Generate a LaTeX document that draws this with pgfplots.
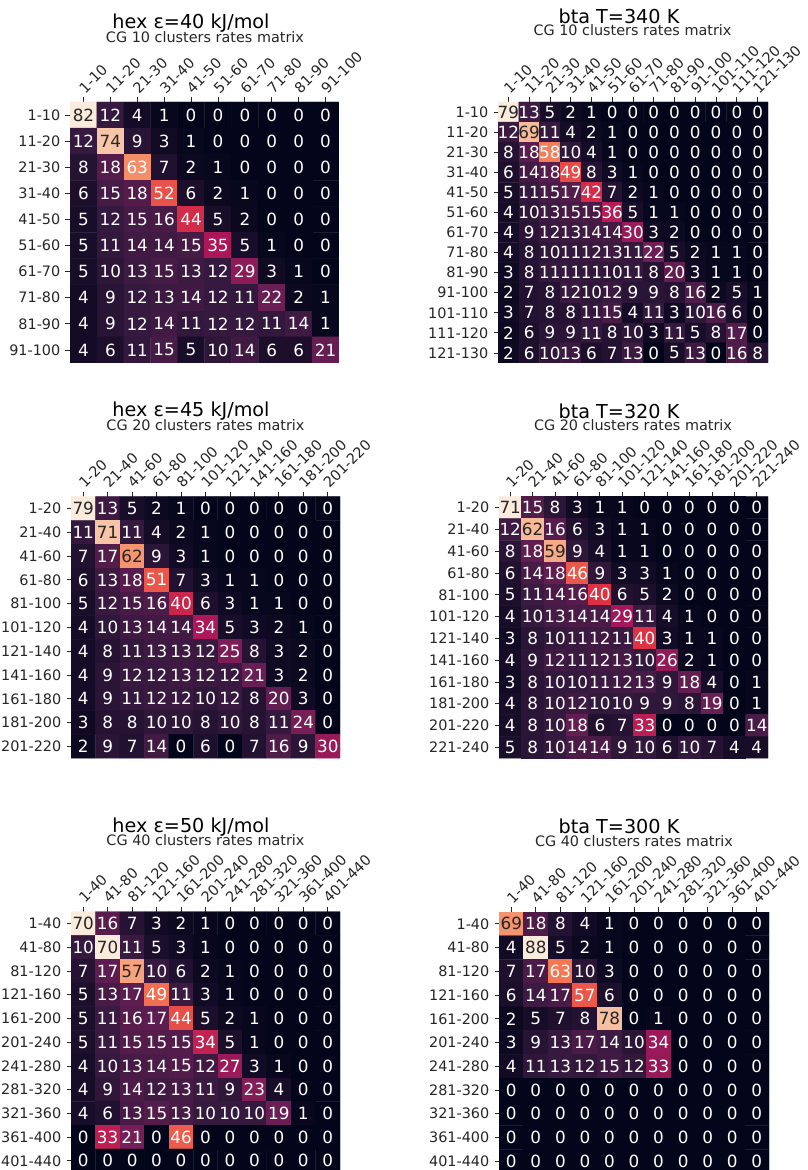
\documentclass[border=0pt]{standalone}
\usepackage{pgfplots}
\pgfplotsset{compat=1.18}
\usepackage{pgfplotstable}
\usepackage{fontspec}
\setmainfont{DejaVu Sans}
\definecolor{txtdark}{HTML}{262626}
\newcommand\tickfont{\fontsize{14.4bp}{16bp}\selectfont}
\newcommand\cellfont{\fontsize{16.8bp}{19bp}\selectfont}
\newcommand\titlefont{\fontsize{19.2bp}{22bp}\selectfont}
\newcommand\subfont{\fontsize{14.4bp}{16bp}\selectfont}
\pgfplotsset{
  colormap={rocket}{rgb255(0)=(3,5,26) rgb255(1)=(53,25,62) rgb255(2)=(112,31,87) rgb255(3)=(173,23,89) rgb255(4)=(225,51,66) rgb255(5)=(243,118,81) rgb255(6)=(246,180,143) rgb255(7)=(250,235,221)},
  hm/.style={
    scale only axis, anchor=north west, enlargelimits=false, y dir=reverse,
    xtick pos=right, xticklabel pos=right, ytick pos=left, yticklabel pos=left,
    tick align=outside, major tick length=4.5bp,
    tick style={line width=0.8bp, color=txtdark},
    axis line style={draw=none},
    colormap name=rocket, point meta min=0,
    tick label style={font=\tickfont, inner sep=0pt, color=txtdark},
    yticklabel style={anchor=east, xshift=-5bp},
    xticklabel style={xshift=2bp, yshift=3bp, rotate=45, anchor=south west},
  },
  hmcells/.style={matrix plot*, mesh/cols=#1, point meta=explicit},
  hmtextw/.style={only marks, mark=none, point meta=explicit,
    nodes near coords={\pgfmathprintnumber[assume math mode=true]{\pgfplotspointmeta}},
    y filter/.expression={\thisrow{C}>#1 ? nan : y},
    every node near coord/.append style={anchor=center, font=\cellfont, inner sep=0pt, color=white}},
  hmtextd/.style={only marks, mark=none, point meta=explicit,
    nodes near coords={\pgfmathprintnumber[assume math mode=true]{\pgfplotspointmeta}},
    y filter/.expression={\thisrow{C}>#1 ? y : nan},
    every node near coord/.append style={anchor=center, font=\cellfont, inner sep=0pt, color=txtdark}},
}
% hex eps=40, 10 x 10
\pgfplotstableread[row sep=\\]{
x y C\\
0 0 82\\ 1 0 12\\ 2 0 4\\ 3 0 1\\ 4 0 0\\ 5 0 0\\ 6 0 0\\ 7 0 0\\ 8 0 0\\ 9 0 0\\
0 1 12\\ 1 1 74\\ 2 1 9\\ 3 1 3\\ 4 1 1\\ 5 1 0\\ 6 1 0\\ 7 1 0\\ 8 1 0\\ 9 1 0\\
0 2 8\\ 1 2 18\\ 2 2 63\\ 3 2 7\\ 4 2 2\\ 5 2 1\\ 6 2 0\\ 7 2 0\\ 8 2 0\\ 9 2 0\\
0 3 6\\ 1 3 15\\ 2 3 18\\ 3 3 52\\ 4 3 6\\ 5 3 2\\ 6 3 1\\ 7 3 0\\ 8 3 0\\ 9 3 0\\
0 4 5\\ 1 4 12\\ 2 4 15\\ 3 4 16\\ 4 4 44\\ 5 4 5\\ 6 4 2\\ 7 4 0\\ 8 4 0\\ 9 4 0\\
0 5 5\\ 1 5 11\\ 2 5 14\\ 3 5 14\\ 4 5 15\\ 5 5 35\\ 6 5 5\\ 7 5 1\\ 8 5 0\\ 9 5 0\\
0 6 5\\ 1 6 10\\ 2 6 13\\ 3 6 15\\ 4 6 13\\ 5 6 12\\ 6 6 29\\ 7 6 3\\ 8 6 1\\ 9 6 0\\
0 7 4\\ 1 7 9\\ 2 7 12\\ 3 7 13\\ 4 7 14\\ 5 7 12\\ 6 7 11\\ 7 7 22\\ 8 7 2\\ 9 7 1\\
0 8 4\\ 1 8 9\\ 2 8 12\\ 3 8 14\\ 4 8 11\\ 5 8 12\\ 6 8 12\\ 7 8 11\\ 8 8 14\\ 9 8 1\\
0 9 4\\ 1 9 6\\ 2 9 11\\ 3 9 15\\ 4 9 5\\ 5 9 10\\ 6 9 14\\ 7 9 6\\ 8 9 6\\ 9 9 21\\
}\tA
% bta T=340 K, 13 x 13
\pgfplotstableread[row sep=\\]{
x y C\\
0 0 79\\ 1 0 13\\ 2 0 5\\ 3 0 2\\ 4 0 1\\ 5 0 0\\ 6 0 0\\ 7 0 0\\ 8 0 0\\ 9 0 0\\ 10 0 0\\ 11 0 0\\ 12 0 0\\
0 1 12\\ 1 1 69\\ 2 1 11\\ 3 1 4\\ 4 1 2\\ 5 1 1\\ 6 1 0\\ 7 1 0\\ 8 1 0\\ 9 1 0\\ 10 1 0\\ 11 1 0\\ 12 1 0\\
0 2 8\\ 1 2 18\\ 2 2 58\\ 3 2 10\\ 4 2 4\\ 5 2 1\\ 6 2 0\\ 7 2 0\\ 8 2 0\\ 9 2 0\\ 10 2 0\\ 11 2 0\\ 12 2 0\\
0 3 6\\ 1 3 14\\ 2 3 18\\ 3 3 49\\ 4 3 8\\ 5 3 3\\ 6 3 1\\ 7 3 0\\ 8 3 0\\ 9 3 0\\ 10 3 0\\ 11 3 0\\ 12 3 0\\
0 4 5\\ 1 4 11\\ 2 4 15\\ 3 4 17\\ 4 4 42\\ 5 4 7\\ 6 4 2\\ 7 4 1\\ 8 4 0\\ 9 4 0\\ 10 4 0\\ 11 4 0\\ 12 4 0\\
0 5 4\\ 1 5 10\\ 2 5 13\\ 3 5 15\\ 4 5 15\\ 5 5 36\\ 6 5 5\\ 7 5 1\\ 8 5 1\\ 9 5 0\\ 10 5 0\\ 11 5 0\\ 12 5 0\\
0 6 4\\ 1 6 9\\ 2 6 12\\ 3 6 13\\ 4 6 14\\ 5 6 14\\ 6 6 30\\ 7 6 3\\ 8 6 2\\ 9 6 0\\ 10 6 0\\ 11 6 0\\ 12 6 0\\
0 7 4\\ 1 7 8\\ 2 7 10\\ 3 7 11\\ 4 7 12\\ 5 7 13\\ 6 7 11\\ 7 7 22\\ 8 7 5\\ 9 7 2\\ 10 7 1\\ 11 7 1\\ 12 7 0\\
0 8 3\\ 1 8 8\\ 2 8 11\\ 3 8 11\\ 4 8 11\\ 5 8 10\\ 6 8 11\\ 7 8 8\\ 8 8 20\\ 9 8 3\\ 10 8 1\\ 11 8 1\\ 12 8 0\\
0 9 2\\ 1 9 7\\ 2 9 8\\ 3 9 12\\ 4 9 10\\ 5 9 12\\ 6 9 9\\ 7 9 9\\ 8 9 8\\ 9 9 16\\ 10 9 2\\ 11 9 5\\ 12 9 1\\
0 10 3\\ 1 10 7\\ 2 10 8\\ 3 10 8\\ 4 10 11\\ 5 10 15\\ 6 10 4\\ 7 10 11\\ 8 10 3\\ 9 10 10\\ 10 10 16\\ 11 10 6\\ 12 10 0\\
0 11 2\\ 1 11 6\\ 2 11 9\\ 3 11 9\\ 4 11 11\\ 5 11 8\\ 6 11 10\\ 7 11 3\\ 8 11 11\\ 9 11 5\\ 10 11 8\\ 11 11 17\\ 12 11 0\\
0 12 2\\ 1 12 6\\ 2 12 10\\ 3 12 13\\ 4 12 6\\ 5 12 7\\ 6 12 13\\ 7 12 0\\ 8 12 5\\ 9 12 13\\ 10 12 0\\ 11 12 16\\ 12 12 8\\
}\tB
% hex eps=45, 11 x 11
\pgfplotstableread[row sep=\\]{
x y C\\
0 0 79\\ 1 0 13\\ 2 0 5\\ 3 0 2\\ 4 0 1\\ 5 0 0\\ 6 0 0\\ 7 0 0\\ 8 0 0\\ 9 0 0\\ 10 0 0\\
0 1 11\\ 1 1 71\\ 2 1 11\\ 3 1 4\\ 4 1 2\\ 5 1 1\\ 6 1 0\\ 7 1 0\\ 8 1 0\\ 9 1 0\\ 10 1 0\\
0 2 7\\ 1 2 17\\ 2 2 62\\ 3 2 9\\ 4 2 3\\ 5 2 1\\ 6 2 0\\ 7 2 0\\ 8 2 0\\ 9 2 0\\ 10 2 0\\
0 3 6\\ 1 3 13\\ 2 3 18\\ 3 3 51\\ 4 3 7\\ 5 3 3\\ 6 3 1\\ 7 3 1\\ 8 3 0\\ 9 3 0\\ 10 3 0\\
0 4 5\\ 1 4 12\\ 2 4 15\\ 3 4 16\\ 4 4 40\\ 5 4 6\\ 6 4 3\\ 7 4 1\\ 8 4 1\\ 9 4 0\\ 10 4 0\\
0 5 4\\ 1 5 10\\ 2 5 13\\ 3 5 14\\ 4 5 14\\ 5 5 34\\ 6 5 5\\ 7 5 3\\ 8 5 2\\ 9 5 1\\ 10 5 0\\
0 6 4\\ 1 6 8\\ 2 6 11\\ 3 6 13\\ 4 6 13\\ 5 6 12\\ 6 6 25\\ 7 6 8\\ 8 6 3\\ 9 6 2\\ 10 6 0\\
0 7 4\\ 1 7 9\\ 2 7 12\\ 3 7 12\\ 4 7 13\\ 5 7 12\\ 6 7 12\\ 7 7 21\\ 8 7 3\\ 9 7 2\\ 10 7 0\\
0 8 4\\ 1 8 9\\ 2 8 11\\ 3 8 12\\ 4 8 12\\ 5 8 10\\ 6 8 12\\ 7 8 8\\ 8 8 20\\ 9 8 3\\ 10 8 0\\
0 9 3\\ 1 9 8\\ 2 9 8\\ 3 9 10\\ 4 9 10\\ 5 9 8\\ 6 9 10\\ 7 9 8\\ 8 9 11\\ 9 9 24\\ 10 9 0\\
0 10 2\\ 1 10 9\\ 2 10 7\\ 3 10 14\\ 4 10 0\\ 5 10 6\\ 6 10 0\\ 7 10 7\\ 8 10 16\\ 9 10 9\\ 10 10 30\\
}\tC
% bta T=320 K, 12 x 12
\pgfplotstableread[row sep=\\]{
x y C\\
0 0 71\\ 1 0 15\\ 2 0 8\\ 3 0 3\\ 4 0 1\\ 5 0 1\\ 6 0 0\\ 7 0 0\\ 8 0 0\\ 9 0 0\\ 10 0 0\\ 11 0 0\\
0 1 12\\ 1 1 62\\ 2 1 16\\ 3 1 6\\ 4 1 3\\ 5 1 1\\ 6 1 1\\ 7 1 0\\ 8 1 0\\ 9 1 0\\ 10 1 0\\ 11 1 0\\
0 2 8\\ 1 2 18\\ 2 2 59\\ 3 2 9\\ 4 2 4\\ 5 2 1\\ 6 2 1\\ 7 2 0\\ 8 2 0\\ 9 2 0\\ 10 2 0\\ 11 2 0\\
0 3 6\\ 1 3 14\\ 2 3 18\\ 3 3 46\\ 4 3 9\\ 5 3 3\\ 6 3 3\\ 7 3 1\\ 8 3 0\\ 9 3 0\\ 10 3 0\\ 11 3 0\\
0 4 5\\ 1 4 11\\ 2 4 14\\ 3 4 16\\ 4 4 40\\ 5 4 6\\ 6 4 5\\ 7 4 2\\ 8 4 0\\ 9 4 0\\ 10 4 0\\ 11 4 0\\
0 5 4\\ 1 5 10\\ 2 5 13\\ 3 5 14\\ 4 5 14\\ 5 5 29\\ 6 5 11\\ 7 5 4\\ 8 5 1\\ 9 5 0\\ 10 5 0\\ 11 5 0\\
0 6 3\\ 1 6 8\\ 2 6 10\\ 3 6 11\\ 4 6 12\\ 5 6 11\\ 6 6 40\\ 7 6 3\\ 8 6 1\\ 9 6 1\\ 10 6 0\\ 11 6 0\\
0 7 4\\ 1 7 9\\ 2 7 12\\ 3 7 11\\ 4 7 12\\ 5 7 13\\ 6 7 10\\ 7 7 26\\ 8 7 2\\ 9 7 1\\ 10 7 0\\ 11 7 0\\
0 8 3\\ 1 8 8\\ 2 8 10\\ 3 8 10\\ 4 8 11\\ 5 8 12\\ 6 8 13\\ 7 8 9\\ 8 8 18\\ 9 8 4\\ 10 8 0\\ 11 8 1\\
0 9 4\\ 1 9 8\\ 2 9 10\\ 3 9 12\\ 4 9 10\\ 5 9 10\\ 6 9 9\\ 7 9 9\\ 8 9 8\\ 9 9 19\\ 10 9 0\\ 11 9 1\\
0 10 4\\ 1 10 8\\ 2 10 10\\ 3 10 18\\ 4 10 6\\ 5 10 7\\ 6 10 33\\ 7 10 0\\ 8 10 0\\ 9 10 0\\ 10 10 0\\ 11 10 14\\
0 11 5\\ 1 11 8\\ 2 11 10\\ 3 11 14\\ 4 11 14\\ 5 11 9\\ 6 11 10\\ 7 11 6\\ 8 11 10\\ 9 11 7\\ 10 11 4\\ 11 11 4\\
}\tD
% hex eps=50, 11 x 11
\pgfplotstableread[row sep=\\]{
x y C\\
0 0 70\\ 1 0 16\\ 2 0 7\\ 3 0 3\\ 4 0 2\\ 5 0 1\\ 6 0 0\\ 7 0 0\\ 8 0 0\\ 9 0 0\\ 10 0 0\\
0 1 10\\ 1 1 70\\ 2 1 11\\ 3 1 5\\ 4 1 3\\ 5 1 1\\ 6 1 0\\ 7 1 0\\ 8 1 0\\ 9 1 0\\ 10 1 0\\
0 2 7\\ 1 2 17\\ 2 2 57\\ 3 2 10\\ 4 2 6\\ 5 2 2\\ 6 2 1\\ 7 2 0\\ 8 2 0\\ 9 2 0\\ 10 2 0\\
0 3 5\\ 1 3 13\\ 2 3 17\\ 3 3 49\\ 4 3 11\\ 5 3 3\\ 6 3 1\\ 7 3 0\\ 8 3 0\\ 9 3 0\\ 10 3 0\\
0 4 5\\ 1 4 11\\ 2 4 16\\ 3 4 17\\ 4 4 44\\ 5 4 5\\ 6 4 2\\ 7 4 1\\ 8 4 0\\ 9 4 0\\ 10 4 0\\
0 5 5\\ 1 5 11\\ 2 5 15\\ 3 5 15\\ 4 5 15\\ 5 5 34\\ 6 5 5\\ 7 5 1\\ 8 5 0\\ 9 5 0\\ 10 5 0\\
0 6 4\\ 1 6 10\\ 2 6 13\\ 3 6 14\\ 4 6 15\\ 5 6 12\\ 6 6 27\\ 7 6 3\\ 8 6 1\\ 9 6 0\\ 10 6 0\\
0 7 4\\ 1 7 9\\ 2 7 14\\ 3 7 12\\ 4 7 13\\ 5 7 11\\ 6 7 9\\ 7 7 23\\ 8 7 4\\ 9 7 0\\ 10 7 0\\
0 8 4\\ 1 8 6\\ 2 8 13\\ 3 8 15\\ 4 8 13\\ 5 8 10\\ 6 8 10\\ 7 8 10\\ 8 8 19\\ 9 8 1\\ 10 8 0\\
0 9 0\\ 1 9 33\\ 2 9 21\\ 3 9 0\\ 4 9 46\\ 5 9 0\\ 6 9 0\\ 7 9 0\\ 8 9 0\\ 9 9 0\\ 10 9 0\\
0 10 0\\ 1 10 0\\ 2 10 0\\ 3 10 0\\ 4 10 0\\ 5 10 0\\ 6 10 0\\ 7 10 0\\ 8 10 0\\ 9 10 0\\ 10 10 0\\
}\tE
% bta T=300 K, 11 x 11
\pgfplotstableread[row sep=\\]{
x y C\\
0 0 69\\ 1 0 18\\ 2 0 8\\ 3 0 4\\ 4 0 1\\ 5 0 0\\ 6 0 0\\ 7 0 0\\ 8 0 0\\ 9 0 0\\ 10 0 0\\
0 1 4\\ 1 1 88\\ 2 1 5\\ 3 1 2\\ 4 1 1\\ 5 1 0\\ 6 1 0\\ 7 1 0\\ 8 1 0\\ 9 1 0\\ 10 1 0\\
0 2 7\\ 1 2 17\\ 2 2 63\\ 3 2 10\\ 4 2 3\\ 5 2 0\\ 6 2 0\\ 7 2 0\\ 8 2 0\\ 9 2 0\\ 10 2 0\\
0 3 6\\ 1 3 14\\ 2 3 17\\ 3 3 57\\ 4 3 6\\ 5 3 0\\ 6 3 0\\ 7 3 0\\ 8 3 0\\ 9 3 0\\ 10 3 0\\
0 4 2\\ 1 4 5\\ 2 4 7\\ 3 4 8\\ 4 4 78\\ 5 4 0\\ 6 4 1\\ 7 4 0\\ 8 4 0\\ 9 4 0\\ 10 4 0\\
0 5 3\\ 1 5 9\\ 2 5 13\\ 3 5 17\\ 4 5 14\\ 5 5 10\\ 6 5 34\\ 7 5 0\\ 8 5 0\\ 9 5 0\\ 10 5 0\\
0 6 4\\ 1 6 11\\ 2 6 13\\ 3 6 12\\ 4 6 15\\ 5 6 12\\ 6 6 33\\ 7 6 0\\ 8 6 0\\ 9 6 0\\ 10 6 0\\
0 7 0\\ 1 7 0\\ 2 7 0\\ 3 7 0\\ 4 7 0\\ 5 7 0\\ 6 7 0\\ 7 7 0\\ 8 7 0\\ 9 7 0\\ 10 7 0\\
0 8 0\\ 1 8 0\\ 2 8 0\\ 3 8 0\\ 4 8 0\\ 5 8 0\\ 6 8 0\\ 7 8 0\\ 8 8 0\\ 9 8 0\\ 10 8 0\\
0 9 0\\ 1 9 0\\ 2 9 0\\ 3 9 0\\ 4 9 0\\ 5 9 0\\ 6 9 0\\ 7 9 0\\ 8 9 0\\ 9 9 0\\ 10 9 0\\
0 10 0\\ 1 10 0\\ 2 10 0\\ 3 10 0\\ 4 10 0\\ 5 10 0\\ 6 10 0\\ 7 10 0\\ 8 10 0\\ 9 10 0\\ 10 10 0\\
}\tF
\begin{document}
\begin{tikzpicture}[x=1bp,y=1bp]
% ---------- hex 40
\begin{axis}[hm, at={(70bp,1068bp)}, width=269bp, height=261bp,
  xmin=-0.5, xmax=9.5, ymin=-0.5, ymax=9.5, point meta max=82,
  xtick={0,...,9}, ytick={0,...,9},
  xticklabels={1-10,11-20,21-30,31-40,41-50,51-60,61-70,71-80,81-90,91-100},
  yticklabels={1-10,11-20,21-30,31-40,41-50,51-60,61-70,71-80,81-90,91-100}]
\addplot[hmcells=10] table[meta=C] {\tA};
\addplot[hmtextw=63.9] table[meta=C] {\tA};
\addplot[hmtextd=63.9] table[meta=C] {\tA};
\end{axis}
% ---------- bta 340
\begin{axis}[hm, at={(498bp,1068bp)}, width=270bp, height=261bp,
  xmin=-0.5, xmax=12.5, ymin=-0.5, ymax=12.5, point meta max=79,
  xtick={0,...,12}, ytick={0,...,12},
  xticklabels={1-10,11-20,21-30,31-40,41-50,51-60,61-70,71-80,81-90,91-100,101-110,111-120,121-130},
  yticklabels={1-10,11-20,21-30,31-40,41-50,51-60,61-70,71-80,81-90,91-100,101-110,111-120,121-130}]
\addplot[hmcells=13] table[meta=C] {\tB};
\addplot[hmtextw=61.6] table[meta=C] {\tB};
\addplot[hmtextd=61.6] table[meta=C] {\tB};
\end{axis}
% ---------- hex 45
\begin{axis}[hm, at={(71bp,673.3bp)}, width=269bp, height=261.5bp,
  xmin=-0.5, xmax=10.5, ymin=-0.5, ymax=10.5, point meta max=79,
  xtick={0,...,10}, ytick={0,...,10},
  xticklabels={1-20,21-40,41-60,61-80,81-100,101-120,121-140,141-160,161-180,181-200,201-220},
  yticklabels={1-20,21-40,41-60,61-80,81-100,101-120,121-140,141-160,161-180,181-200,201-220}]
\addplot[hmcells=11] table[meta=C] {\tC};
\addplot[hmtextw=61.6] table[meta=C] {\tC};
\addplot[hmtextd=61.6] table[meta=C] {\tC};
\end{axis}
% ---------- bta 320
\begin{axis}[hm, at={(499bp,673.3bp)}, width=269bp, height=261.5bp,
  xmin=-0.5, xmax=11.5, ymin=-0.5, ymax=11.5, point meta max=71,
  xtick={0,...,11}, ytick={0,...,11},
  xticklabels={1-20,21-40,41-60,61-80,81-100,101-120,121-140,141-160,161-180,181-200,201-220,221-240},
  yticklabels={1-20,21-40,41-60,61-80,81-100,101-120,121-140,141-160,161-180,181-200,201-220,221-240}]
\addplot[hmcells=12] table[meta=C] {\tD};
\addplot[hmtextw=55.4] table[meta=C] {\tD};
\addplot[hmtextd=55.4] table[meta=C] {\tD};
\end{axis}
% ---------- hex 50
\begin{axis}[hm, at={(71bp,258.3bp)}, width=269bp, height=261bp,
  xmin=-0.5, xmax=10.5, ymin=-0.5, ymax=10.5, point meta max=70,
  xtick={0,...,10}, ytick={0,...,10},
  xticklabels={1-40,41-80,81-120,121-160,161-200,201-240,241-280,281-320,321-360,361-400,401-440},
  yticklabels={1-40,41-80,81-120,121-160,161-200,201-240,241-280,281-320,321-360,361-400,401-440}]
\addplot[hmcells=11] table[meta=C] {\tE};
\addplot[hmtextw=54.6] table[meta=C] {\tE};
\addplot[hmtextd=54.6] table[meta=C] {\tE};
\end{axis}
% ---------- bta 300
\begin{axis}[hm, at={(499bp,258bp)}, width=270bp, height=261bp,
  xmin=-0.5, xmax=10.5, ymin=-0.5, ymax=10.5, point meta max=88,
  xtick={0,...,10}, ytick={0,...,10},
  xticklabels={1-40,41-80,81-120,121-160,161-200,201-240,241-280,281-320,321-360,361-400,401-440},
  yticklabels={1-40,41-80,81-120,121-160,161-200,201-240,241-280,281-320,321-360,361-400,401-440}]
\addplot[hmcells=11] table[meta=C] {\tF};
\addplot[hmtextw=66] table[meta=C] {\tF};
\addplot[hmtextd=66] table[meta=C] {\tF};
\end{axis}
% ---------- titles
\node[anchor=base, font=\titlefont, text=black] at (191bp,1141.7bp) {hex ε=40 kJ/mol};
\node[anchor=base, font=\subfont, text=txtdark] at (205bp,1127.3bp) {CG 10 clusters rates matrix};
\node[anchor=base, font=\titlefont, text=black] at (619bp,1146bp) {bta T=340 K};
\node[anchor=base, font=\subfont, text=txtdark] at (632.5bp,1134bp) {CG 10 clusters rates matrix};
\node[anchor=base, font=\titlefont, text=black] at (191bp,753.3bp) {hex ε=45 kJ/mol};
\node[anchor=base, font=\subfont, text=txtdark] at (205.5bp,739.3bp) {CG 20 clusters rates matrix};
\node[anchor=base, font=\titlefont, text=black] at (619bp,751.7bp) {bta T=320 K};
\node[anchor=base, font=\subfont, text=txtdark] at (633bp,739.3bp) {CG 20 clusters rates matrix};
\node[anchor=base, font=\titlefont, text=black] at (191bp,337.7bp) {hex ε=50 kJ/mol};
\node[anchor=base, font=\subfont, text=txtdark] at (205.5bp,324.3bp) {CG 40 clusters rates matrix};
\node[anchor=base, font=\titlefont, text=black] at (619bp,336.7bp) {bta T=300 K};
\node[anchor=base, font=\subfont, text=txtdark] at (634bp,323.3bp) {CG 40 clusters rates matrix};
\pgfresetboundingbox
\path (0bp,0bp) rectangle (808bp,1170bp);
\end{tikzpicture}
\end{document}
